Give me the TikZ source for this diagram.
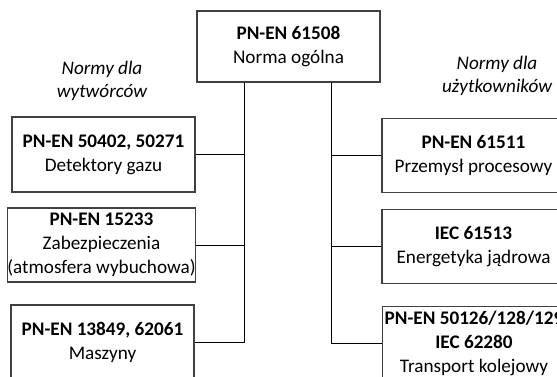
\documentclass[tikz,border=0pt]{standalone}
\usepackage{fontspec}
\setmainfont{Carlito}
\begin{document}
\begin{tikzpicture}[x=0.75pt,y=-0.75pt,
  every node/.style={font=\fontsize{14.4}{18}\selectfont},
  normbox/.style={draw=black!75, line width=0.9pt, align=center, inner sep=0pt,
                  minimum width=137.25pt, minimum height=55pt, fill=white},
  grouplabel/.style={align=center, font=\fontsize{14.4}{17}\selectfont\itshape},
  link/.style={draw=black, line width=0.65pt}]
\useasboundingbox (0,0) rectangle (557,377);
\clip (0,0) rectangle (557,377);

% general standard
\node[normbox, minimum height=53.25pt] (top) at (288.5,46.5) {\textbf{PN-EN 61508}\\Norma ogólna};

% group captions
\node[grouplabel] (lablL) at (102,81) {Normy dla\\wytwórców};
\node[grouplabel] (lablR) at (497,76) {Normy dla\\użytkowników};

% manufacturers' standards
\node[normbox, minimum height=56.25pt] (l1) at (103.5,154.5) {\textbf{PN-EN 50402, 50271}\\Detektory gazu};
\node[normbox, minimum height=55.5pt]  (l2) at (101.5,245) {\textbf{PN-EN 15233}\\Zabezpieczenia\\(atmosfera wybuchowa)};
\node[normbox, minimum height=55.5pt]  (l3) at (102.5,342) {\textbf{PN-EN 13849, 62061}\\Maszyny};

% users' standards
\node[normbox, minimum height=55pt] (r1) at (473.5,155.5) {\textbf{PN-EN 61511}\\Przemysł procesowy};
\node[normbox, minimum height=55pt] (r2) at (473.5,246.5) {\textbf{IEC 61513}\\Energetyka jądrowa};
\node[normbox, minimum height=55pt] (r3) at (474,343) {\textbf{PN-EN 50126/128/129}\\\textbf{IEC 62280}\\Transport kolejowy};

% trunk lines
\coordinate (lt) at (244,0);
\coordinate (rt) at (331,0);

\draw[link] (top.south -| lt) |- (l3.east);
\draw[link] (l1.east) -- (l1.east -| lt);
\draw[link] (l2.east) -- (l2.east -| lt);

\draw[link] (top.south -| rt) |- (r3.west);
\draw[link] (r1.west) -- (r1.west -| rt);
\draw[link] (r2.west) -- (r2.west -| rt);
\end{tikzpicture}
\end{document}
